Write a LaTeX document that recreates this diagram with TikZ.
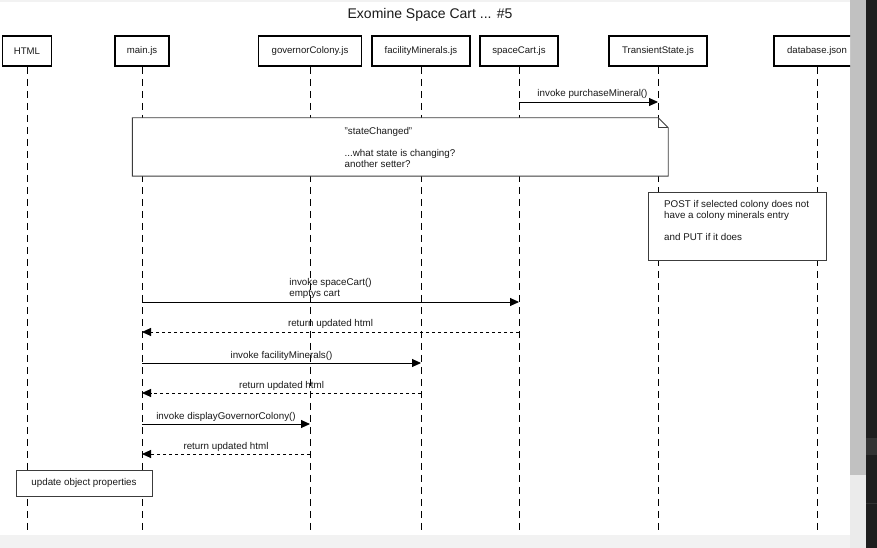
\documentclass[tikz,border=0pt]{standalone}
\usepackage{fontspec}
\setmainfont{Liberation Sans}
\usetikzlibrary{arrows.meta,calc}
\definecolor{bandgray}{HTML}{F2F2F2}
\definecolor{thumbgray}{HTML}{C1C1C1}
\definecolor{trackgray}{HTML}{EBEBEB}
\definecolor{darkpanel}{HTML}{1E1E1E}
\definecolor{darkband}{HTML}{333333}
\definecolor{noteline}{HTML}{3C3C3C}
\definecolor{txt}{HTML}{1A1A1A}
\begin{document}
\begin{tikzpicture}[x=1pt,y=-1pt,
  head/.style={draw=black, line width=1.6pt, fill=white, minimum height=30pt, inner sep=0pt, text=txt, font=\fontsize{9.6}{11}\selectfont},
  life/.style={line width=0.9pt, dash pattern=on 7.5pt off 4.5pt},
  call/.style={line width=0.9pt, -{Triangle[length=9pt,width=8pt]}},
  ret/.style={line width=0.9pt, dash pattern=on 3.5pt off 2.5pt, -{Triangle[length=9pt,width=8pt]}},
  lbl/.style={font=\fontsize{9.8}{11}\selectfont, inner sep=0pt, text=txt},
  notebox/.style={inner sep=0pt},
  noteedge/.style={draw=noteline, line width=0.9pt, fill=white},
  notetext/.style={font=\fontsize{9.8}{11}\selectfont, align=left, inner sep=0pt, anchor=west, text=txt},
]
\useasboundingbox (0,0) rectangle (877,548);
% page background and window chrome
\fill[white] (0,0) rectangle (877,548);
\fill[bandgray] (0,0) rectangle (850,2.5);
\fill[bandgray] (0,535) rectangle (850,548);
\fill[thumbgray] (850,0) rectangle (866,475);
\fill[trackgray] (850,475) rectangle (866,548);
\fill[darkpanel] (866,0) rectangle (877,548);
\fill[darkband] (866,438) rectangle (877,455);
\draw[darkband, line width=1pt] (866,503) -- (877,503);

\node[font=\fontsize{14}{16}\selectfont, text=txt] (title) at (430,14.5) {Exomine Space Cart ... \#5};

\begin{scope}
\clip (0,2.5) rectangle (850,535);
\coordinate (bottom) at (0,531);
% lifeline heads
\node[head, minimum width=49pt] (hHTML) at (27,51) {HTML};
\node[head, minimum width=54pt] (hMain) at (142,51) {main.js};
\node[head, minimum width=103pt] (hGov) at (310,51) {governorColony.js};
\node[head, minimum width=98pt] (hFac) at (421,51) {facilityMinerals.js};
\node[head, minimum width=78pt] (hCart) at (519,51) {spaceCart.js};
\node[head, minimum width=98pt] (hTrans) at (658,51) {TransientState.js};
\node[head, minimum width=86pt] (hDb) at (817,51) {database.json};
% lifelines
\foreach \h in {hHTML,hMain,hGov,hFac,hCart,hTrans,hDb}
  \draw[life] (\h.south) -- (\h.south |- bottom);

% messages
\draw[call] (hCart.south |- 0,102) -- node[lbl, yshift=8.5pt, xshift=4pt] (m1) {invoke purchaseMineral()} (hTrans.south |- 0,102);
\draw[call] (hMain.south |- 0,302) -- node[lbl, align=left, yshift=13.5pt] (m2) {invoke spaceCart()\\emptys cart} (hCart.south |- 0,302);
\draw[ret] (hCart.south |- 0,332) -- node[lbl, yshift=8pt] (m3) {return updated html} (hMain.south |- 0,332);
\draw[call] (hMain.south |- 0,363) -- node[lbl, yshift=7.5pt] (m4) {invoke facilityMinerals()} (hFac.south |- 0,363);
\draw[ret] (hFac.south |- 0,393) -- node[lbl, yshift=7.5pt] (m5) {return updated html} (hMain.south |- 0,393);
\draw[call] (hMain.south |- 0,424) -- node[lbl, yshift=7.5pt] (m6) {invoke displayGovernorColony()} (hGov.south |- 0,424);
\draw[ret] (hGov.south |- 0,454) -- node[lbl, yshift=7.5pt] (m7) {return updated html} (hMain.south |- 0,454);

% note 1 (folded corner)
\node[notebox, minimum width=535.5pt, minimum height=58pt] (n1) at (400.25,147) {};
\draw[noteedge] (n1.north west) -- ($(n1.north east)+(-10,0)$) -- ($(n1.north east)+(0,10)$) -- (n1.south east) -- (n1.south west) -- cycle;
\draw[noteedge, fill=none] ($(n1.north east)+(-10,0)$) -- ($(n1.north east)+(-10,10)$) -- ($(n1.north east)+(0,10)$);
\node[notetext] (n1t) at (344.5,147.5) {"stateChanged"\\[10.8pt]...what state is changing?\\another setter?};

% note 2
\node[notebox, noteedge, minimum width=178pt, minimum height=68pt] (n2) at (737,226) {};
\node[notetext] (n2t) at (664,220.5) {POST if selected colony does not\\have a colony minerals entry\\[10.8pt]and PUT if it does};

% note 3
\node[notebox, noteedge, minimum width=136pt, minimum height=26pt, font=\fontsize{9.8}{11}\selectfont, text=txt] (n3) at (84,483) {update object properties};
\end{scope}
\end{tikzpicture}
\end{document}
